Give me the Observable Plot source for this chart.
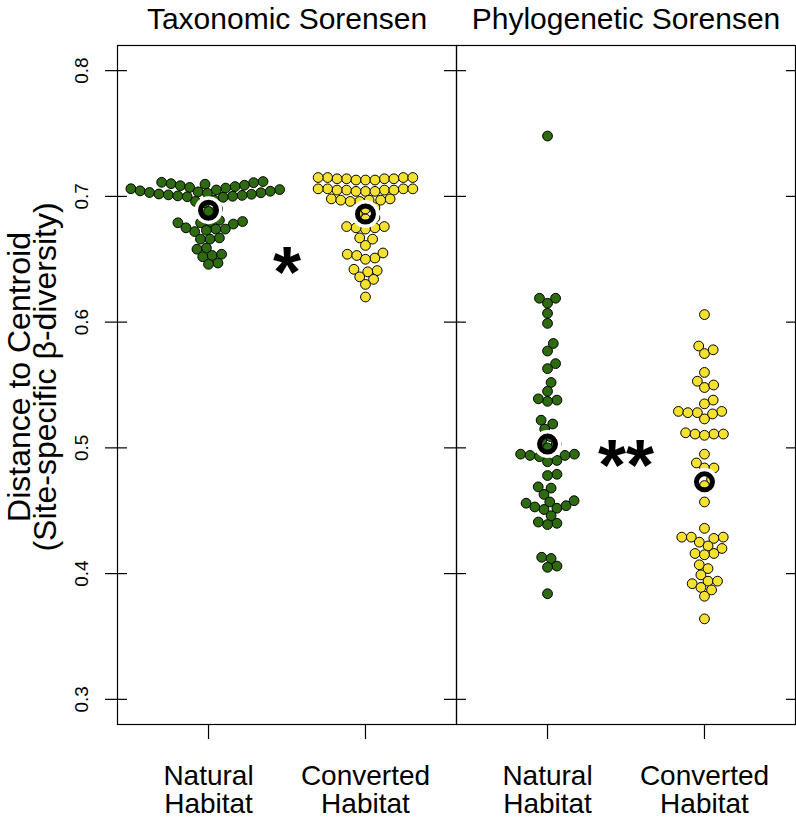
<!DOCTYPE html>
<html><head><meta charset="utf-8">
<script src="https://cdn.jsdelivr.net/npm/d3@7"></script>
<script src="https://cdn.jsdelivr.net/npm/@observablehq/plot@0.6"></script>
<style>body{margin:0;background:#fff} #chart svg{display:block}</style>
</head><body><div id="chart"></div>
<script>
// ---- data ----
const panels = ["Taxonomic Sorensen", "Phylogenetic Sorensen"];
const habitats = ["Natural", "Converted"];
const habitatLabels = ["Natural\nHabitat", "Converted\nHabitat"];
const yTicks = [0.3, 0.4, 0.5, 0.6, 0.7, 0.8];
const yTitle = ["Distance to Centroid", "(Site-specific \u03b2-diversity)"];

const taxNatural = [
  0.7118, 0.7112, 0.7109, 0.7101, 0.7097, 0.7089, 0.7085, 0.7078, 0.7071,
  0.7066, 0.7061, 0.7054, 0.7051, 0.7044, 0.7041, 0.7036, 0.7031, 0.7029,
  0.7024, 0.7019, 0.7017, 0.7012, 0.7008, 0.7004, 0.7001, 0.6997, 0.6993,
  0.697, 0.696, 0.695, 0.690, 0.688,
  0.680, 0.679, 0.680, 0.678, 0.679, 0.681,
  0.674, 0.673, 0.672, 0.674, 0.675,
  0.667, 0.666, 0.666, 0.659, 0.658,
  0.653, 0.654, 0.652, 0.647, 0.646];
const taxConverted = [
  0.715, 0.714, 0.715, 0.713, 0.714, 0.715, 0.714, 0.713, 0.715, 0.714, 0.713,
  0.706, 0.705, 0.704, 0.706, 0.705, 0.704, 0.706, 0.705, 0.704, 0.706, 0.705,
  0.697, 0.698, 0.696, 0.697, 0.698, 0.696, 0.697,
  0.690, 0.691, 0.686, 0.683, 0.682,
  0.676, 0.675, 0.674, 0.675, 0.676,
  0.667, 0.666, 0.661,
  0.654, 0.653, 0.651, 0.650, 0.655,
  0.642, 0.641, 0.640, 0.636, 0.634, 0.630, 0.620];
const phyNatural = [
  0.748, 0.619, 0.619, 0.615, 0.607, 0.599, 0.583, 0.577, 0.567, 0.563,
  0.552, 0.545, 0.538, 0.537, 0.539, 0.522, 0.519, 0.515, 0.509, 0.506,
  0.503, 0.500, 0.495, 0.494, 0.495, 0.494, 0.493, 0.490, 0.489, 0.479,
  0.478, 0.469, 0.468, 0.463, 0.457, 0.456, 0.453, 0.452, 0.451, 0.454,
  0.458, 0.446, 0.440, 0.439, 0.441, 0.413, 0.412, 0.406, 0.405, 0.384];
const phyConverted = [
  0.606, 0.581, 0.575, 0.578, 0.560, 0.553, 0.548, 0.550, 0.538, 0.535,
  0.529, 0.529, 0.528, 0.528, 0.527, 0.523, 0.511, 0.512, 0.511, 0.510,
  0.511, 0.495, 0.488, 0.484, 0.484, 0.475, 0.470, 0.457, 0.436, 0.429,
  0.429, 0.429, 0.428, 0.425, 0.422, 0.420, 0.416, 0.416, 0.415, 0.407,
  0.404, 0.399, 0.394, 0.394, 0.392, 0.389, 0.387, 0.382, 0.364];

// group centroids (ringed markers)
const centroidValues = [0.689, 0.686, 0.503, 0.473];
// significance annotations
const signifLabels = ["*", "**"];
const signifY = [0.65, 0.497];

const green = "#2e6b10";
const yellow = "#f5e12f";

// ---- build tables ----
const groups = [
  [panels[0], 1, taxNatural], [panels[0], 2, taxConverted],
  [panels[1], 1, phyNatural], [panels[1], 2, phyConverted]];
const rows = [];
groups.forEach(([panel, cat, vals], g) => vals.forEach(v => rows.push({panel, cat, group: g, habitat: habitats[cat - 1], value: v})));
const rings = groups.map(([panel, cat], g) => ({panel, cat, value: centroidValues[g]}));
const stars = panels.map((panel, i) => ({panel, x: 1.5, value: signifY[i], label: signifLabels[i]}));

const layout = {
  width: 796, height: 819,
  marginTop: 45, marginBottom: 95, marginLeft: 116, marginRight: 1,
  fx: {domain: panels, padding: 0},
  x: {domain: [0.42, 2.58]},
  y: {domain: [0.28, 0.82]},
  color: {domain: habitats, range: [green, yellow]},
  style: {fontFamily: "'Liberation Sans', Arial, Helvetica, sans-serif", background: "#fff", color: "#000", overflow: "visible"}
};

// first pass: get the scales to compute a beeswarm layout in pixels
const base = Plot.plot({...layout, marks: [Plot.dot(rows, {fx: "panel", x: "cat", y: "value"})]});
const sx = base.scale("x"), sy = base.scale("y");
const pxPerX = sx.apply(2) - sx.apply(1);

function swarm(ypx, d) {
  const idx = d3.range(ypx.length).sort((a, b) => ypx[b] - ypx[a] || a - b);
  const placed = [], out = new Array(ypx.length);
  for (const i of idx) {
    const y = ypx[i];
    const cands = [0];
    for (const p of placed) {
      const dy = Math.abs(p.y - y);
      if (dy < d) { const dx = Math.sqrt(d * d - dy * dy); cands.push(p.x + dx, p.x - dx); }
    }
    cands.sort((a, b) => Math.abs(a) - Math.abs(b));
    let xi = 0;
    for (const c of cands) {
      if (placed.every(p => (p.x - c) ** 2 + (p.y - y) ** 2 >= d * d - 1e-6)) { xi = c; break; }
    }
    out[i] = xi; placed.push({x: xi, y});
  }
  return out;
}
groups.forEach((_, g) => {
  const gr = rows.filter(r => r.group === g);
  const off = swarm(gr.map(r => sy.apply(r.value)), 9.5);
  gr.forEach((r, i) => r.xpos = r.cat + off[i] / pxPerX);
});

const chart = Plot.plot({
  ...layout,
  marks: [
    Plot.frame({stroke: "#000", strokeWidth: 1.2}),
    Plot.axisY({ticks: yTicks, tickSize: 22, dx: 10, tickFormat: () => "", facetAnchor: null, label: null, strokeWidth: 1.2}),
    Plot.axisY({anchor: "right", ticks: yTicks, tickSize: 20, dx: -10, tickFormat: () => "", label: null, strokeWidth: 1.2}),
    Plot.axisY({ticks: yTicks, tickFormat: d3.format(".1f"), tickRotate: -90, tickSize: 0, tickPadding: 30, fontSize: 19, label: null}),
    Plot.axisX({ticks: [1, 2], tickFormat: i => habitatLabels[i - 1], tickSize: 15, tickPadding: 25, fontSize: 28, lineHeight: 1.02, label: null, strokeWidth: 1.2}),
    Plot.axisFx({anchor: "top", tickSize: 0, tickPadding: 17, fontSize: 30, label: null}),
    Plot.text([{panel: panels[0], label: yTitle[0]}], {fx: "panel", text: "label", frameAnchor: "left", textAnchor: "middle", rotate: -90, dx: -98, dy: -8, fontSize: 32}),
    Plot.text([{panel: panels[0], label: yTitle[1]}], {fx: "panel", text: "label", frameAnchor: "left", textAnchor: "middle", rotate: -90, dx: -72, dy: -8, fontSize: 32}),
    Plot.dot(rows, {fx: "panel", x: "xpos", y: "value", r: 4.9, fill: "habitat", stroke: "#000", strokeWidth: 1}),
    Plot.dot(rings, {fx: "panel", x: "cat", y: "value", r: 10.5, stroke: "#fff", strokeWidth: 7, fill: "none"}),
    Plot.dot(rings, {fx: "panel", x: "cat", y: "value", r: 8, stroke: "#000", strokeWidth: 5, fill: "none"}),
    Plot.text(stars, {fx: "panel", x: "x", y: "value", text: "label", fontSize: 72, fontWeight: "bold", dy: 15})
  ]
});
document.getElementById("chart").append(chart);
</script>
</body></html>
